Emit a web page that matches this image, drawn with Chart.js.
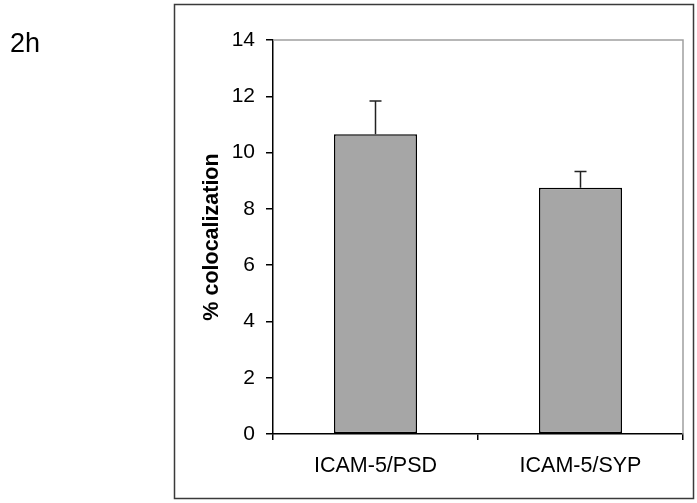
<!DOCTYPE html>
<html>
<head>
<meta charset="utf-8">
<script src="https://cdn.jsdelivr.net/npm/chart.js@4/dist/chart.umd.min.js"></script>
<style>
  html, body { margin: 0; padding: 0; background: #fff; }
  canvas { display: block; }
</style>
</head>
<body>
<canvas id="canvas" width="697" height="503"></canvas>
<script>
var categories = ['ICAM-5/PSD', 'ICAM-5/SYP'];
var values = [10.65, 8.75];
var errors = [1.18, 0.58];
var panelLabel = '2h';
var yTitle = '% colocalization';

var FONT = '"Liberation Sans", Arial, Helvetica, sans-serif';

// frame, panel label and the gray top/right edges of the plot
var framePlugin = {
    id: 'frame',
    beforeDraw: function (c) {
        var ctx = c.ctx;
        ctx.save();
        ctx.fillStyle = '#fff';
        ctx.fillRect(0, 0, c.width, c.height);
        ctx.strokeStyle = '#3a3a3a';
        ctx.lineWidth = 1.5;
        ctx.strokeRect(174.5, 4.5, 519, 494);
        ctx.fillStyle = '#000';
        ctx.font = '27px ' + FONT;
        ctx.textBaseline = 'alphabetic';
        ctx.fillText(panelLabel, 10, 52);
        ctx.restore();
    },
    beforeDatasetsDraw: function (c) {
        var a = c.chartArea, ctx = c.ctx;
        ctx.save();
        ctx.strokeStyle = '#a0a0a0';
        ctx.lineWidth = 1.5;
        ctx.beginPath();
        ctx.moveTo(a.left, a.top);
        ctx.lineTo(a.right, a.top);
        ctx.lineTo(a.right, a.bottom);
        ctx.stroke();
        ctx.restore();
    }
};

// upward-only error bars
var errorPlugin = {
    id: 'errbars',
    afterDatasetsDraw: function (c) {
        var ctx = c.ctx, y = c.scales.y;
        var meta = c.getDatasetMeta(0);
        ctx.save();
        ctx.strokeStyle = '#222';
        ctx.lineWidth = 1.5;
        meta.data.forEach(function (bar, i) {
            var top = y.getPixelForValue(values[i] + errors[i]);
            ctx.beginPath();
            ctx.moveTo(bar.x, bar.y);
            ctx.lineTo(bar.x, top);
            ctx.moveTo(bar.x - 6, top);
            ctx.lineTo(bar.x + 6, top);
            ctx.stroke();
        });
        ctx.restore();
    }
};

new Chart(document.getElementById('canvas').getContext('2d'), {
    type: 'bar',
    data: {
        labels: categories,
        datasets: [{
            data: values,
            backgroundColor: '#a6a6a6',
            borderColor: '#000',
            borderWidth: 1.5,
            borderSkipped: false,
            categoryPercentage: 1,
            barPercentage: 0.405
        }]
    },
    options: {
        responsive: false,
        animation: false,
        devicePixelRatio: 1,
        layout: { padding: { left: 180, top: 40, right: 14, bottom: 9 } },
        plugins: { legend: { display: false }, tooltip: { enabled: false } },
        scales: {
            x: {
                afterFit: function (s) { s.height = 60; },
                grid: { offset: true, drawOnChartArea: false, tickLength: 6, tickColor: '#000', lineWidth: 1.5 },
                border: { color: '#000', width: 1.5 },
                ticks: { color: '#000', font: { family: FONT, size: 21.5 }, padding: 13 }
            },
            y: {
                min: 0,
                max: 14,
                afterFit: function (s) { s.width = 93; },
                grid: { drawOnChartArea: false, tickLength: 7, tickColor: '#000', lineWidth: 1.5 },
                border: { color: '#000', width: 1.5 },
                ticks: { stepSize: 2, color: '#000', font: { family: FONT, size: 21 }, padding: 11 },
                title: {
                    display: true,
                    text: yTitle,
                    color: '#000',
                    font: { family: FONT, size: 21.5, weight: 'bold' },
                    padding: { top: 19, bottom: 0 }
                }
            }
        }
    },
    plugins: [framePlugin, errorPlugin]
});
</script>
</body>
</html>
